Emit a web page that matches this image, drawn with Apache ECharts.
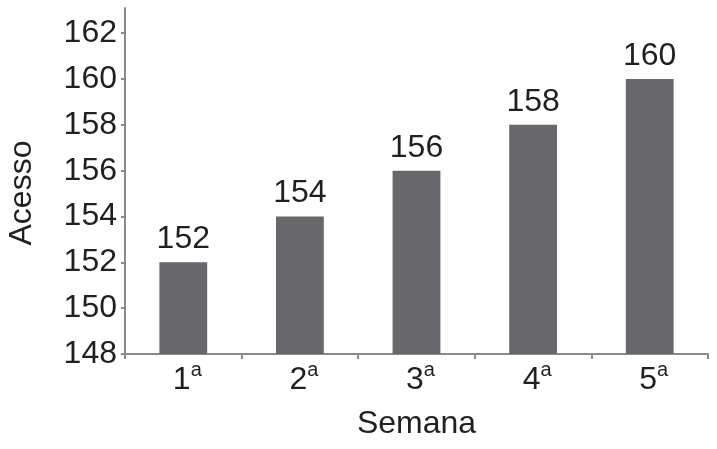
<!DOCTYPE html>
<html>
<head>
<meta charset="utf-8">
<script src="https://cdn.jsdelivr.net/npm/echarts@6.0.0/dist/echarts.min.js"></script>
<style>
html,body{margin:0;padding:0;background:#fff;}
#chart{width:717px;height:449px;}
</style>
</head>
<body>
<div id="chart"></div>
<script>
var categories = ['1', '2', '3', '4', '5'];
var categorySuffix = 'a';
var acessos = [152, 154, 156, 158, 160];
var yTicks = [148, 150, 152, 154, 156, 158, 160, 162];
var xAxisTitle = 'Semana';
var yAxisTitle = 'Acesso';

var textColor = '#231f20';
var axisColor = '#8a8a8c';
var fontFamily = 'Liberation Sans, Arial, sans-serif';

var chart = echarts.init(document.getElementById('chart'), null, {renderer: 'canvas'});
chart.setOption({
  animation: false,
  backgroundColor: '#ffffff',
  grid: {left: 125, right: 9, top: 8, bottom: 95, containLabel: false, outerBoundsMode: 'none'},
  xAxis: {
    type: 'category',
    data: categories,
    name: xAxisTitle,
    nameLocation: 'middle',
    nameGap: 54,
    nameTextStyle: {fontSize: 32, color: textColor, fontFamily: fontFamily},
    axisLine: {lineStyle: {color: axisColor, width: 2}},
    axisTick: {show: true, length: 5, lineStyle: {color: axisColor, width: 2}},
    axisLabel: {
      margin: 6,
      padding: [0, 0, 0, 8],
      formatter: function (v) { return '{n|' + v + '}{s|' + categorySuffix + '}'; },
      rich: {
        n: {fontSize: 32, color: textColor, fontFamily: fontFamily, padding: [4, 0, 0, 0]},
        s: {fontSize: 20, color: textColor, fontFamily: fontFamily, verticalAlign: 'top', lineHeight: 8}
      }
    }
  },
  yAxis: {
    type: 'value',
    min: 148,
    max: 163.1,
    interval: 2,
    name: yAxisTitle,
    nameLocation: 'middle',
    nameGap: 87,
    nameRotate: 90,
    nameTextStyle: {fontSize: 32, color: textColor, fontFamily: fontFamily, padding: [0, 24, 0, 0]},
    splitLine: {show: false},
    axisLine: {show: true, lineStyle: {color: axisColor, width: 2}},
    axisTick: {show: true, length: 4, customValues: yTicks, lineStyle: {color: axisColor, width: 2}},
    axisLabel: {
      margin: 8,
      customValues: yTicks,
      fontSize: 32,
      color: textColor,
      fontFamily: fontFamily
    }
  },
  series: [{
    type: 'bar',
    data: acessos,
    barWidth: '41%',
    itemStyle: {color: '#68686c'},
    label: {
      show: true,
      position: 'top',
      distance: 7,
      fontSize: 32,
      color: textColor,
      fontFamily: fontFamily
    }
  }]
});
</script>
</body>
</html>
